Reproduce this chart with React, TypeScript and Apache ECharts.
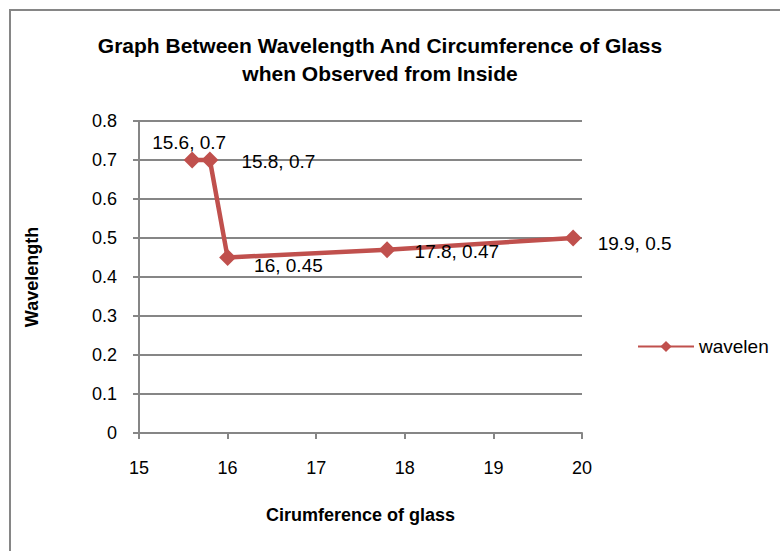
import React, { useEffect, useRef } from "react";
import * as echarts from "echarts";

const xValues = [15.6, 15.8, 16, 17.8, 19.9];
const yValues = [0.7, 0.7, 0.45, 0.47, 0.5];
const labelTexts = ["15.6, 0.7", "15.8, 0.7", "16, 0.45", "17.8, 0.47", "19.9, 0.5"];
const seriesName = "wavelen";
const titleText = "Graph Between Wavelength And Circumference of Glass\nwhen Observed from Inside";
const xAxisName = "Cirumference of glass";
const yAxisName = "Wavelength";

const labelPlacement: any[] = [
  { position: "top", distance: 0, offset: [-3, 0] },
  { position: "right", distance: 23, offset: [0, 1] },
  { position: "right", distance: 18, offset: [0, 8] },
  { position: "right", distance: 19, offset: [0, 2] },
  { position: "right", distance: 16, offset: [0, 5] },
];

const FONT = "Liberation Sans";
const RED = "#c0504d";
const GRAY = "#868686";

export default function App() {
  const ref = useRef<HTMLDivElement>(null);
  useEffect(() => {
    if (!ref.current) return;
    const chart = echarts.init(ref.current, null, { renderer: "svg" });
    const data = xValues.map((x, i) => ({
      value: [x, yValues[i]],
      label: {
        show: true,
        formatter: labelTexts[i],
        ...labelPlacement[i],
      },
    }));
    chart.setOption({
      animation: false,
      backgroundColor: "#ffffff",
      textStyle: { fontFamily: FONT },
      graphic: [
        {
          type: "rect",
          shape: { x: 10, y: 10, width: 800, height: 600 },
          style: { fill: "none", stroke: GRAY, lineWidth: 2 },
          silent: true,
          z: -1,
        },
        {
          type: "text",
          x: 380,
          y: 31,
          silent: true,
          style: {
            text: titleText,
            textAlign: "center",
            textVerticalAlign: "top",
            fontFamily: FONT,
            fontSize: 21,
            fontWeight: "bold",
            fill: "#000",
            lineHeight: 28,
          },
        },
      ],
      legend: {
        data: [seriesName],
        left: 632,
        top: 332,
        itemWidth: 56,
        itemHeight: 14,
        itemGap: 6,
        textStyle: { fontFamily: FONT, fontSize: 19, color: "#000" },
      },
      grid: { left: 139, right: 198, top: 121, bottom: 118, containLabel: false },
      xAxis: {
        type: "value",
        min: 15,
        max: 20,
        interval: 1,
        name: xAxisName,
        nameLocation: "middle",
        nameGap: 73,
        nameTextStyle: { fontFamily: FONT, fontSize: 18, fontWeight: "bold", color: "#000" },
        axisLine: { show: true, lineStyle: { color: GRAY, width: 2 } },
        axisTick: { show: true, length: 6, lineStyle: { color: GRAY, width: 2 } },
        axisLabel: { margin: 26, fontFamily: FONT, fontSize: 18, color: "#000" },
        splitLine: { show: false },
      },
      yAxis: {
        type: "value",
        min: 0,
        max: 0.8,
        interval: 0.1,
        name: yAxisName,
        nameLocation: "middle",
        nameGap: 98,
        nameRotate: 90,
        nameTextStyle: { fontFamily: FONT, fontSize: 18, fontWeight: "bold", color: "#000" },
        axisLine: { show: true, lineStyle: { color: GRAY, width: 2 } },
        axisTick: { show: true, length: 6, lineStyle: { color: GRAY, width: 2 } },
        axisLabel: { margin: 22, fontFamily: FONT, fontSize: 18, color: "#000" },
        splitLine: { show: true, lineStyle: { color: GRAY, width: 2 } },
      },
      series: [
        {
          name: seriesName,
          type: "line",
          data,
          symbol: "diamond",
          symbolSize: 17,
          itemStyle: { color: RED },
          lineStyle: { color: RED, width: 4.5 },
          label: { fontFamily: FONT, fontSize: 19, color: "#000" },
        },
      ],
    });
    return () => chart.dispose();
  }, []);
  return (
    <div
      ref={ref}
      style={{ position: "fixed", left: 0, top: 0, width: 780, height: 551 }}
    />
  );
}
